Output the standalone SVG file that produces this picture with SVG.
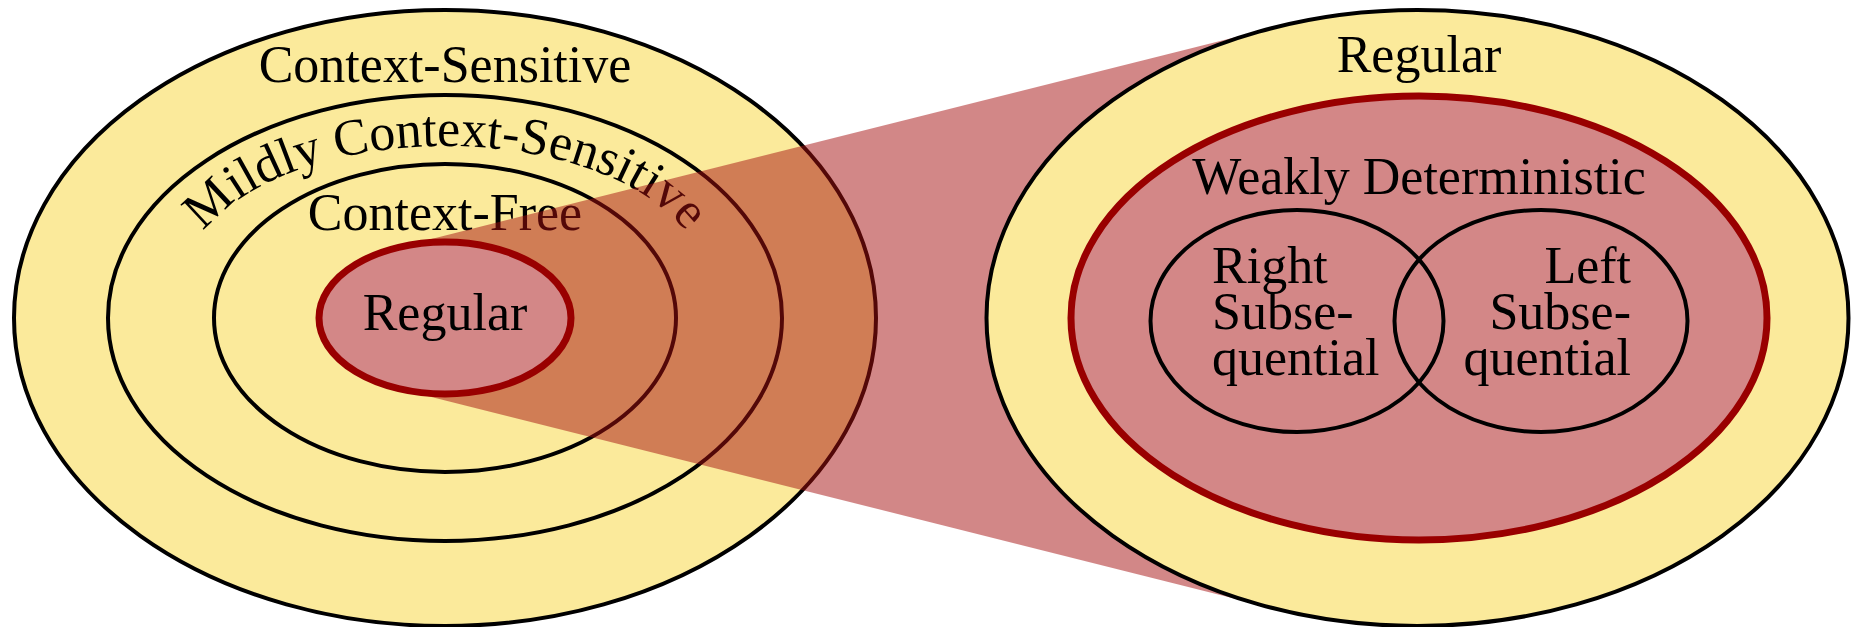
<svg xmlns="http://www.w3.org/2000/svg" width="1851" height="627" viewBox="0 0 1851 627">
<style>
.y{fill:#fbea9b;stroke:#000;stroke-width:4}
.n{fill:none;stroke:#000;stroke-width:4}
.r{fill:#d38787;stroke:#990000;stroke-width:7}
text{font-family:"Liberation Serif","Times New Roman",serif;font-size:52px;fill:#000}
.c{text-anchor:middle}
.e{text-anchor:end}
</style>
<defs>
<path id="arc" d="M 187,280 A 258 134 0 0 1 703,280"/>
</defs>
<g id="context-sensitive">
<ellipse class="y" cx="445" cy="318" rx="431" ry="308"/>
<text class="c" x="445" y="82">Context-Sensitive</text>
</g>
<g id="mildly-context-sensitive">
<ellipse class="y" cx="445" cy="318" rx="337" ry="223"/>
<text><textPath href="#arc" startOffset="50%" text-anchor="middle">Mildly Context-Sensitive</textPath></text>
</g>
<g id="context-free">
<ellipse class="y" cx="445" cy="318" rx="231" ry="154"/>
<text class="c" x="445" y="230">Context-Free</text>
</g>
<g id="connectors">
<polygon points="396.6,247.8 1274.6,27.4 1274.6,608.6 396.6,388.2" fill="#a60f0f" fill-opacity="0.5"/>
</g>
<g id="regular-left">
<ellipse class="r" cx="445" cy="318" rx="126" ry="76"/>
<text class="c" x="445" y="330">Regular</text>
</g>
<g id="regular-right">
<ellipse class="y" cx="1417.5" cy="318" rx="431" ry="308"/>
<text class="c" x="1419" y="72">Regular</text>
</g>
<g id="weakly-deterministic">
<ellipse class="r" cx="1419" cy="318" rx="348" ry="222"/>
<text class="c" x="1419" y="194">Weakly Deterministic</text>
</g>
<g id="right-subsequential">
<ellipse class="n" cx="1297" cy="321" rx="146.5" ry="111"/>
<text x="1212" y="282.5">Right</text>
<text x="1212" y="328.5">Subse-</text>
<text x="1212" y="374.5">quential</text>
</g>
<g id="left-subsequential">
<ellipse class="n" cx="1541" cy="321" rx="146.5" ry="111"/>
<text class="e" x="1631" y="282.5">Left</text>
<text class="e" x="1631" y="328.5">Subse-</text>
<text class="e" x="1631" y="374.5">quential</text>
</g>
</svg>
